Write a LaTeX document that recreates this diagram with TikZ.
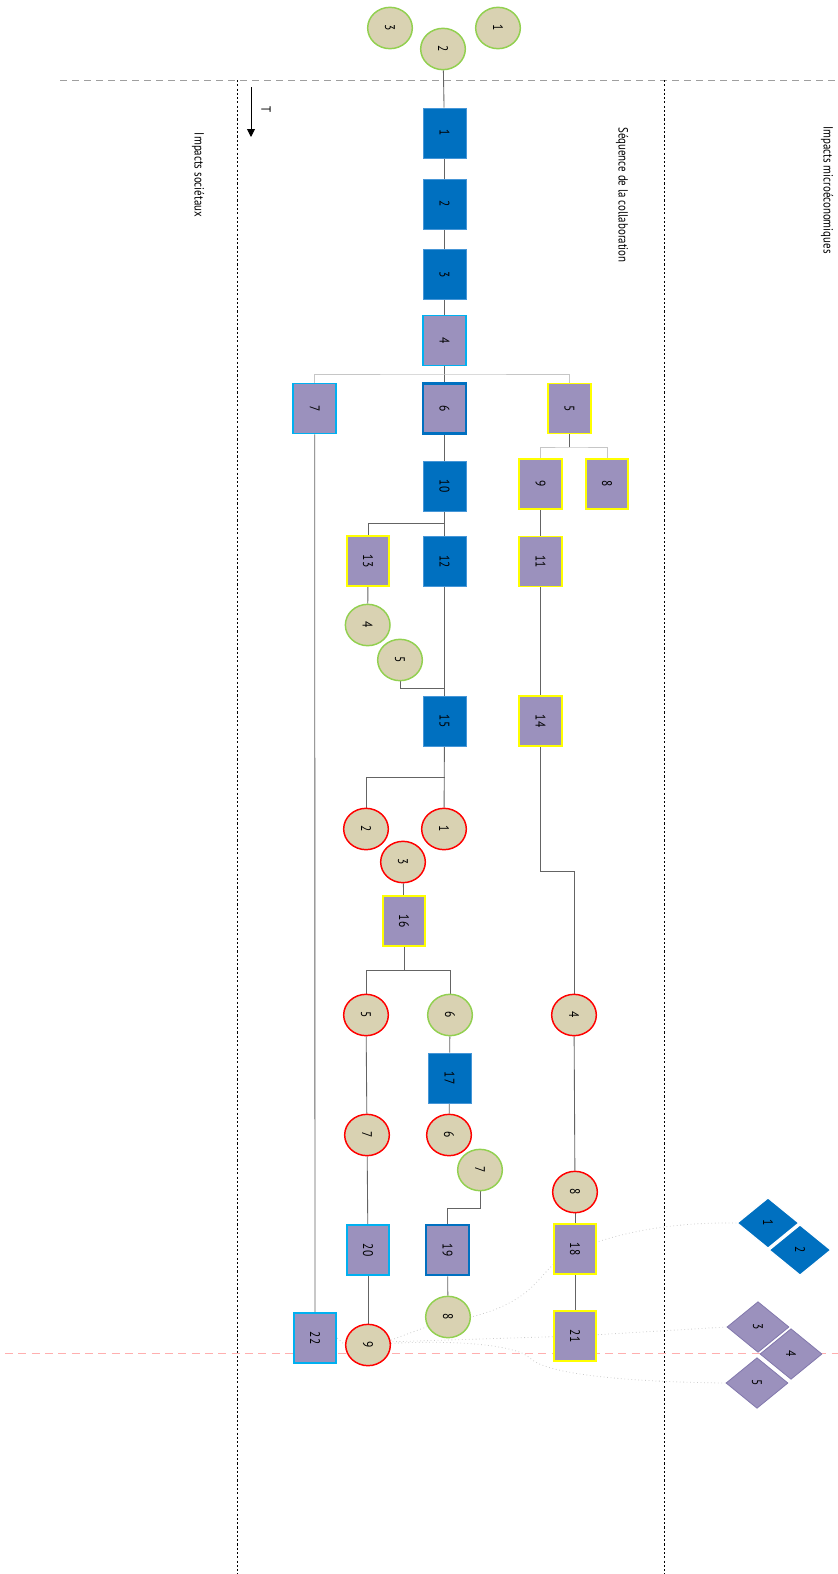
\documentclass[tikz,border=0pt]{standalone}
\usepackage{graphicx}
\usepackage{fontspec}
\setmainfont[FakeStretch=0.82]{PT Sans}
\usetikzlibrary{shapes.geometric,arrows.meta}
\pgfdeclarelayer{bg}
\pgfsetlayers{bg,main}
\definecolor{mblue}{RGB}{0,112,192}
\definecolor{mblueedge}{RGB}{70,150,215}
\definecolor{mpurple}{RGB}{155,145,189}
\definecolor{mpurpleedge}{RGB}{130,120,172}
\definecolor{myellow}{RGB}{255,255,0}
\definecolor{mcyan}{RGB}{0,176,240}
\definecolor{mtan}{RGB}{217,210,178}
\definecolor{mgreen}{RGB}{146,208,80}
\definecolor{mred}{RGB}{255,0,0}
\definecolor{mline}{RGB}{100,100,100}
\definecolor{mpink}{RGB}{255,175,175}
\newcommand{\rt}[1]{\rotatebox{-90}{#1}}
\tikzset{
  box/.style={rectangle, minimum width=32pt, minimum height=37.5pt, inner sep=0pt, font=\fontsize{10.5}{11}\selectfont},
  bbox/.style={box, fill=mblue, draw=mblueedge, line width=0.5pt},
  ybox/.style={box, fill=mpurple, draw=myellow, line width=1.4pt},
  cbox/.style={box, fill=mpurple, draw=mcyan, line width=1.4pt},
  dbox/.style={box, fill=mpurple, draw=mblue, line width=1.9pt},
  circ/.style={ellipse, minimum width=33.5pt, minimum height=31pt, inner sep=0pt, fill=mtan, line width=1.1pt, font=\fontsize{10.5}{11}\selectfont},
  gc/.style={circ, draw=mgreen},
  rc/.style={circ, draw=mred},
  dia/.style={diamond, minimum width=46.5pt, minimum height=38pt, inner sep=0pt, font=\fontsize{10.5}{11}\selectfont},
  bdia/.style={dia, fill=mblue, draw=white, line width=0.9pt},
  pdia/.style={dia, fill=mpurple, draw=mpurpleedge, line width=0.6pt},
  conn/.style={draw=mline, line width=0.65pt},
  lconn/.style={draw=gray!45, line width=0.7pt},
  faint/.style={draw=gray!40, dotted, line width=0.6pt},
  lbl/.style={inner sep=0pt, font=\fontsize{10}{11}\selectfont},
}
\begin{document}
\begin{tikzpicture}[x=0.75pt,y=-0.75pt]
\useasboundingbox (0,0) rectangle (838,1574);

% frame lines
\coordinate (tl) at (60,80);
\coordinate (tr) at (838,80);
\coordinate (v1t) at (237,80);
\coordinate (v1b) at (237,1574);
\coordinate (v2t) at (664,80);
\coordinate (v2b) at (664,1574);
\coordinate (pl) at (5,1353);
\coordinate (pr) at (838,1353);
\draw[gray!75, line width=0.7pt, dash pattern=on 5.5pt off 3.5pt] (tl) -- (tr);
\draw[black, line width=0.6pt, dash pattern=on 1.6pt off 1.6pt] (v1t) -- (v1b);
\draw[black, line width=0.6pt, dash pattern=on 1.6pt off 1.6pt] (v2t) -- (v2b);
\draw[mpink, line width=0.7pt, dash pattern=on 6pt off 4pt] (pl) -- (pr);

% labels
\node[lbl] (ls) at (198,175) {\rt{Impacts sociétaux}};
\node[lbl] (lq) at (622,195) {\rt{Séquence de la collaboration}};
\node[lbl] (lm) at (827,190) {\rt{Impacts microéconomiques}};
\node[lbl] (lt) at (266,110) {\rt{T}};
\coordinate (ta) at (251,87);
\coordinate (tb) at (251,137);
\draw[line width=0.7pt, -{Triangle[length=6pt,width=6pt]}] (ta) -- (tb);

% top circles
\node[gc] (g3t) at (390,28) {\rt{3}};
\node[gc] (g1t) at (498,28) {\rt{1}};
\node[gc] (g2t) at (443,49) {\rt{2}};

% boxes
\node[bbox] (b1) at (444.5,133) {\rt{1}};
\node[bbox] (b2) at (444.5,204) {\rt{2}};
\node[bbox] (b3) at (444.5,274.5) {\rt{3}};
\node[cbox] (b4) at (444.5,340.5) {\rt{4}};
\node[ybox] (b5) at (569.5,408.5) {\rt{5}};
\node[dbox] (b6) at (444.5,408.5) {\rt{6}};
\node[cbox] (b7) at (314.7,408.5) {\rt{7}};
\node[ybox] (b8) at (607,484) {\rt{8}};
\node[ybox] (b9) at (540.5,484) {\rt{9}};
\node[bbox] (b10) at (444.5,486) {\rt{10}};
\node[ybox] (b11) at (540.5,561.5) {\rt{11}};
\node[bbox] (b12) at (444.5,561.5) {\rt{12}};
\node[ybox] (b13) at (368,561) {\rt{13}};
\node[ybox] (b14) at (540.5,721) {\rt{14}};
\node[bbox] (b15) at (444.5,721) {\rt{15}};
\node[ybox] (b16) at (404,921) {\rt{16}};
\node[bbox] (b17) at (449.5,1078) {\rt{17}};
\node[ybox] (b18) at (575,1249) {\rt{18}};
\node[dbox] (b19) at (447.5,1250) {\rt{19}};
\node[cbox] (b20) at (368,1250) {\rt{20}};
\node[ybox] (b21) at (575,1336) {\rt{21}};
\node[cbox] (b22) at (315,1338) {\rt{22}};

% circles
\node[gc] (g4) at (367.7,625) {\rt{4}};
\node[gc] (g5) at (400,660) {\rt{5}};
\node[rc] (r1) at (444,829) {\rt{1}};
\node[rc] (r2) at (366,829) {\rt{2}};
\node[rc] (r3) at (403,862) {\rt{3}};
\node[rc] (r5) at (366,1015) {\rt{5}};
\node[gc] (g6) at (450,1015) {\rt{6}};
\node[rc] (r4) at (574,1015) {\rt{4}};
\node[rc] (r7) at (367,1135) {\rt{7}};
\node[rc] (r6) at (449,1135) {\rt{6}};
\node[gc] (g7) at (480,1170) {\rt{7}};
\node[rc] (r8) at (575,1192) {\rt{8}};
\node[gc] (g8) at (448,1317) {\rt{8}};
\node[rc] (r9) at (368,1345) {\rt{9}};

% diamonds
\node[bdia] (d1) at (768,1223) {\rt{1}};
\node[bdia] (d2) at (800,1250) {\rt{2}};
\node[pdia] (d3) at (758,1327) {\rt{3}};
\node[pdia] (d4) at (791,1354) {\rt{4}};
\node[pdia] (d5) at (757,1383) {\rt{5}};

% junctions
\coordinate (j1) at (444.5,374);
\coordinate (j2) at (569.5,447);
\coordinate (j3) at (444.5,523);
\coordinate (j4) at (444.5,688);
\coordinate (j5) at (444.5,777);
\coordinate (j6) at (404,970);
\coordinate (j7) at (574,871);
\coordinate (j8) at (447.5,1208);

\begin{pgfonlayer}{bg}
% connectors
\draw[conn] (g2t) -- (b1);
\draw[conn] (b1) -- (b2);
\draw[conn] (b2) -- (b3);
\draw[conn] (b3) -- (b4);
\draw[conn] (b4) -- (b6);
\draw[lconn] (b7.north) |- (j1) -| (b5.north);
\draw[conn] (b5) -- (j2);
\draw[lconn] (b9.north) |- (j2) -| (b8.north);
\draw[conn] (b6) -- (b10);
\draw[conn] (b10) -- (b12);
\draw[conn] (b13.north) |- (j3);
\draw[conn] (b9) -- (b11);
\draw[conn] (b11) -- (b14);
\draw[conn] (b13) -- (g4);
\draw[conn] (g5.south) |- (j4);
\draw[conn] (b12) -- (b15);
\draw[conn] (b15) -- (r1);
\draw[conn] (r2.north) |- (j5);
\draw[conn] (r3) -- (b16);
\draw[conn] (b16) -- (j6);
\draw[conn] (r5.north) |- (j6) -| (g6.north);
\draw[conn] (b14.south) |- (j7) -- (r4.north);
\draw[conn] (g6) -- (b17);
\draw[conn] (b17) -- (r6);
\draw[conn] (r5) -- (r7);
\draw[conn] (r7) -- (b20);
\draw[conn] (b20) -- (r9);
\draw[conn] (g7.south) |- (j8) -- (b19.north);
\draw[conn] (b19) -- (g8);
\draw[conn] (r4) -- (r8);
\draw[conn] (r8) -- (b18);
\draw[conn] (b18) -- (b21);
\draw[conn] (b7) -- (b22);
% faint links
\draw[faint] (d1.west) .. controls (660,1222) and (610,1236) .. (575,1250)
   .. controls (535,1268) and (545,1298) .. (g8.east);
\draw[faint] (g8.205) -- (r9.12);
\draw[faint] (d3.west) -- (b21) -- (r9.8);
\draw[faint] (d5.west) .. controls (640,1382) and (548,1376) .. (530,1358)
   .. controls (515,1344) and (450,1340) .. (r9.4);
\draw[faint] (b22.east) -- (r9.west);
\end{pgfonlayer}
\end{tikzpicture}
\end{document}
